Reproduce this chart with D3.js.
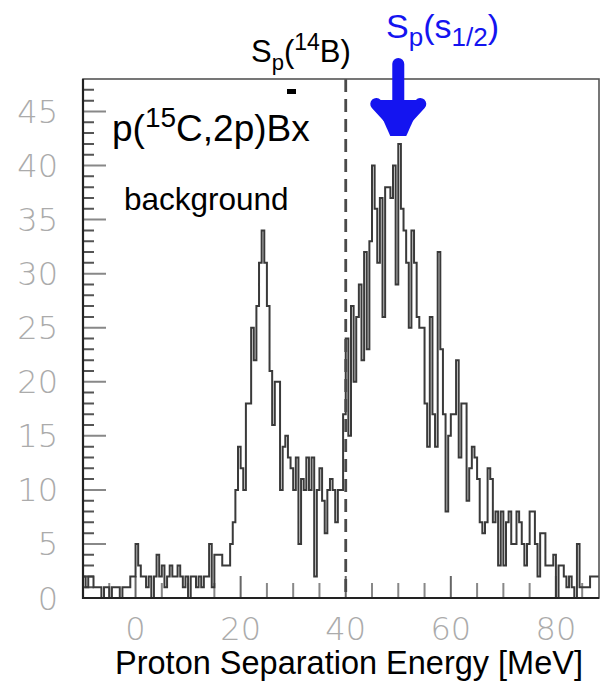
<!DOCTYPE html>
<html>
<head>
<meta charset="utf-8">
<script src="https://cdn.jsdelivr.net/npm/d3@7"></script>
<style>
  html, body { margin: 0; padding: 0; background: #fff; }
  svg { display: block; }
</style>
</head>
<body>
<svg id="chart" width="603" height="688"></svg>
<script>
// Missing-mass spectrum of p(15C,2p)Bx, counts per 0.5 MeV bin
const binStart = -10;
const binWidth = 0.5;
const counts = [
  // -10 .. 0
  2,1,2,2,1,1, 1,0,1,1,0,1, 1,1,0,1,1,1, 2,2,
  // 0 .. 10
  5,3,2,2, 1,2, 0,2, 4,2, 3,1, 2,3, 2,2, 3,2, 1,2,
  // 10 .. 20
  0,2, 2,1, 2,1, 2,2, 5,1, 4,4, 4,3, 3,3, 5,7, 10,14,
  // 20 .. 30
  12,10, 18,18, 25,22, 27,31, 34,31, 27,21, 16,20, 20,10, 14,15, 13,12,
  // 30 .. 40
  10,13, 5,11, 10,13, 10,13, 2,10, 12,9, 6,10, 11,10, 7,10, 10,17,
  // 40 .. 50
  24,15, 27,20, 26,29, 22,32, 23,33, 40,36, 31,37, 26,38, 38,37, 40,29,
  // 50 .. 60
  42,36, 34,31, 25,34, 31,26, 25,25, 18,14, 26,17, 14,32, 23,17, 8,15,
  // 60 .. 70
  17,17, 22,13, 18,18, 9,12, 14,13, 11,7, 6,7, 12,11, 7,8, 3,8,
  // 70 .. 80
  3,7, 8,5, 5,8, 7,5, 3,5, 8,8, 5,2, 6,6, 3,3, 3,4,
  // 80 .. 88.5
  0,3, 3,2, 1,2, 1,0, 5,1, 1,1, 1,2, 2,2, 2
];

const xDomain = [-10, 88.2];
const yDomain = [0, 48];
const xMajorTicks = [0, 20, 40, 60, 80];
const xMinorTicks = [-10, -5, 5, 10, 15, 25, 30, 35, 45, 50, 55, 65, 70, 75, 85];
const yMajorTicks = [0, 5, 10, 15, 20, 25, 30, 35, 40, 45];
const yMinorTicks = d3.range(1, 48).filter(v => v % 5 !== 0);
const thresholdSp14B = 40;     // S_p(14B)
const peakS12 = 50;            // S_p(s1/2)

const svg = d3.select("#chart");
const plot = { left: 83, right: 599, top: 79, bottom: 598 };

const x = d3.scaleLinear().domain(xDomain).range([plot.left, plot.right]);
const y = d3.scaleLinear().domain(yDomain).range([plot.bottom, plot.top]);

svg.append("defs").append("clipPath").attr("id", "plotClip")
  .append("rect")
  .attr("x", plot.left).attr("y", plot.top)
  .attr("width", plot.right - plot.left).attr("height", plot.bottom - plot.top);

// tick marks, drawn inward from the left and bottom edges
const labelColor = "#ababab";
const labelFont = "'DejaVu Sans', sans-serif";

function yTicks(values, len, color) {
  svg.append("path")
    .attr("d", values.map(v => `M${plot.left},${y(v)}h${len}`).join(""))
    .attr("fill", "none").attr("stroke", color).attr("stroke-width", 2);
}
function xTicks(values, len, color) {
  svg.append("path")
    .attr("d", values.map(v => `M${x(v)},${plot.bottom}v${-len}`).join(""))
    .attr("fill", "none").attr("stroke", color).attr("stroke-width", 2);
}
yTicks(yMinorTicks, 11, "#555555");
yTicks(yMajorTicks, 23, "#888888");
xTicks(xMinorTicks, 15, "#888888");
xTicks(xMajorTicks, 22, "#666666");

svg.append("g").selectAll("text").data(yMajorTicks).join("text")
  .attr("x", plot.left - 25).attr("y", d => y(d)).attr("dy", "0.36em")
  .attr("text-anchor", "end").attr("fill", labelColor)
  .style("font-family", labelFont).style("font-weight", 200).style("font-size", "32px")
  .text(d3.format("d"));

svg.append("g").selectAll("text").data(xMajorTicks).join("text")
  .attr("x", d => x(d)).attr("y", plot.bottom + 42)
  .attr("text-anchor", "middle").attr("fill", labelColor)
  .style("font-family", labelFont).style("font-weight", 200).style("font-size", "32px")
  .text(d3.format("d"));

// histogram outline
const points = [[binStart, 0]].concat(
  counts.map((c, i) => [binStart + i * binWidth, c]),
  [[binStart + counts.length * binWidth, counts[counts.length - 1]]]
);
const stepLine = d3.line()
  .x(d => x(d[0]))
  .y(d => y(d[1]))
  .curve(d3.curveStepAfter);

svg.append("path")
  .attr("clip-path", "url(#plotClip)")
  .attr("d", stepLine(points))
  .attr("fill", "none")
  .attr("stroke", "#3a3a3a")
  .attr("stroke-width", 2);

// S_p(14B) threshold marker
svg.append("line")
  .attr("x1", x(thresholdSp14B)).attr("x2", x(thresholdSp14B))
  .attr("y1", plot.top).attr("y2", plot.bottom)
  .attr("stroke", "#4a4a4a").attr("stroke-width", 2.8)
  .attr("stroke-dasharray", "13,7");

// frame
svg.append("rect")
  .attr("x", plot.left).attr("y", plot.top)
  .attr("width", plot.right - plot.left).attr("height", plot.bottom - plot.top)
  .attr("fill", "none").attr("stroke", "#555").attr("stroke-width", 1.6);
svg.append("line")
  .attr("x1", plot.left).attr("x2", plot.left)
  .attr("y1", plot.top).attr("y2", plot.bottom + 1)
  .attr("stroke", "#222").attr("stroke-width", 2.2);
svg.append("line")
  .attr("x1", plot.left).attr("x2", plot.right)
  .attr("y1", plot.bottom).attr("y2", plot.bottom)
  .attr("stroke", "#222").attr("stroke-width", 2.2);

// blue arrow pointing at the s1/2 peak
const blue = "#1414f0";
const ax = x(peakS12);
const arrow = svg.append("g").attr("stroke", blue).attr("fill", "none")
  .attr("stroke-width", 12).attr("stroke-linecap", "round").attr("stroke-linejoin", "round");
arrow.append("line").attr("x1", ax).attr("x2", ax).attr("y1", 64).attr("y2", 126);
arrow.append("path")
  .attr("d", `M${ax - 22},${104} L${ax},${128} L${ax + 22},${104}`);
svg.append("path")
  .attr("d", `M${ax - 24},${100} L${ax + 24},${100} L${ax + 8},${136} L${ax - 8},${136} Z`)
  .attr("fill", blue);

// annotations
const textFont = "'Liberation Sans', Arial, sans-serif";

const t1 = svg.append("text").attr("x", 251).attr("y", 62)
  .style("font-family", textFont).style("font-size", "31px").attr("fill", "#000");
t1.append("tspan").text("S");
t1.append("tspan").attr("dy", 8).style("font-size", "22px").text("p");
t1.append("tspan").attr("dy", -8).text("(");
t1.append("tspan").attr("dy", -12).style("font-size", "23px").text("14");
t1.append("tspan").attr("dy", 12).text("B)");

svg.append("rect").attr("x", 287).attr("y", 89).attr("width", 9).attr("height", 5).attr("fill", "#000");

const t2 = svg.append("text").attr("x", 112).attr("y", 141)
  .style("font-family", textFont).style("font-size", "37px").attr("fill", "#000");
t2.append("tspan").text("p(");
t2.append("tspan").attr("dy", -14).style("font-size", "28px").text("15");
t2.append("tspan").attr("dy", 14).text("C,2p)Bx");

svg.append("text").attr("x", 124).attr("y", 210)
  .style("font-family", textFont).style("font-size", "31.5px").attr("fill", "#000")
  .text("background");

const t3 = svg.append("text").attr("x", 386).attr("y", 38)
  .style("font-family", textFont).style("font-size", "34px").attr("fill", blue);
t3.append("tspan").text("S");
t3.append("tspan").attr("dy", 8).style("font-size", "26px").text("p");
t3.append("tspan").attr("dy", -8).text("(s");
t3.append("tspan").attr("dy", 8).style("font-size", "26px").text("1/2");
t3.append("tspan").attr("dy", -8).text(")");

svg.append("text").attr("x", 349).attr("y", 674)
  .attr("text-anchor", "middle")
  .style("font-family", textFont).style("font-size", "32.5px").attr("fill", "#000")
  .text("Proton Separation Energy [MeV]");
</script>
</body>
</html>
